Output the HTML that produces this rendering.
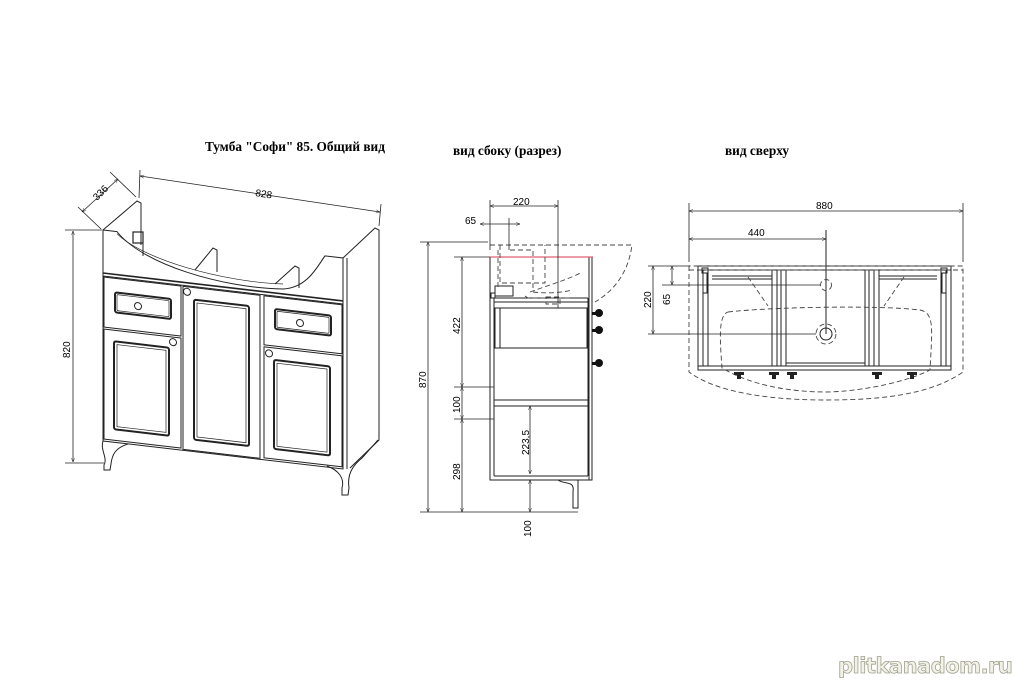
<!DOCTYPE html>
<html><head><meta charset="utf-8"><style>
html,body{margin:0;padding:0;background:#fff;}
svg{display:block;}
text{font-family:"Liberation Serif",serif;fill:#000;}
.s{font-family:"Liberation Sans",sans-serif;font-size:10px;}
.wm{font-family:"DejaVu Sans",sans-serif;font-size:21px;font-weight:bold;fill:#f2f2e6;stroke:#a0a090;stroke-width:0.8px;letter-spacing:-0.5px;}
</style></head><body>
<svg width="1023" height="682" viewBox="0 0 1023 682" xmlns="http://www.w3.org/2000/svg">
<defs>
<marker id="a" viewBox="0 0 10 10" refX="10" refY="5" markerWidth="7" markerHeight="5" orient="auto-start-reverse"><path d="M0,1 L10,5 L0,9" fill="none" stroke="#000" stroke-width="1"/></marker>
</defs>
<rect width="1023" height="682" fill="#fff"/>

<!-- Titles -->
<text x="205" y="151" style="font-size:13.3px;font-weight:bold">Тумба "Софи" 85. Общий вид</text>
<text x="453" y="155" style="font-size:13.3px;font-weight:bold">вид сбоку (разрез)</text>
<text x="725" y="155" style="font-size:13.3px;font-weight:bold">вид сверху</text>

<!-- ===== LEFT VIEW ===== -->
<g fill="none" stroke="#222" stroke-width="1">
  <path d="M103,230 L137,201 L141,203 L141,245"/>
  <path d="M343,258 L375,228 L379,230 L379,440 L350,468"/>
  <line x1="347" y1="258" x2="347" y2="469"/>
  <path d="M195,270 L213,248 L217,250 L217,272"/>
  <path d="M275,284 L295,266 L299,268 L299,288"/>
  <rect x="133" y="232" width="10" height="11" stroke-width="1.2"/>
  <line x1="143" y1="243" x2="143" y2="256"/>
</g>
<g transform="translate(103,230) skewY(6.65)" fill="none" stroke="#222" stroke-width="1">
  <path d="M0,0 L14,0 C40,30 120,44 180,38 C205,34 215,10 222,0 L240,0 L240,211 L0,211 Z"/>
  <path d="M14,2 C40,25 120,38 180,33" stroke-width="0.7"/>
  <line x1="0" y1="43" x2="240" y2="43" stroke-width="1.6"/>
  <line x1="0" y1="46" x2="240" y2="46"/>
  <rect x="1" y="47" width="77" height="50"/>
  <rect x="12" y="61" width="56" height="20" rx="2" stroke-width="2"/>
  <rect x="14" y="63" width="52" height="16" rx="1" stroke-width="0.7"/>
  <circle cx="35" cy="72" r="3.5"/>
  <rect x="1" y="99" width="77" height="110"/>
  <rect x="11" y="110" width="55" height="88" rx="2" stroke-width="2"/>
  <rect x="14" y="113" width="49" height="82" stroke-width="0.7"/>
  <circle cx="70" cy="104" r="3.5"/>
  <rect x="80" y="47" width="77" height="163"/>
  <rect x="91" y="59" width="55" height="140" rx="2" stroke-width="2"/>
  <rect x="94" y="62" width="49" height="134" stroke-width="0.7"/>
  <circle cx="84" cy="52" r="3.5"/>
  <rect x="161" y="47" width="78" height="49"/>
  <rect x="172" y="59" width="56" height="20" rx="2" stroke-width="2"/>
  <rect x="174" y="61" width="52" height="16" rx="1" stroke-width="0.7"/>
  <circle cx="197" cy="70" r="3.5"/>
  <rect x="161" y="98" width="78" height="111"/>
  <rect x="171" y="110" width="56" height="89" rx="2" stroke-width="2"/>
  <rect x="174" y="113" width="50" height="83" stroke-width="0.7"/>
  <circle cx="166" cy="104" r="3.5"/>
</g>
<g fill="none" stroke="#222" stroke-width="1">
  <path d="M103,441 C100,450 108,458 104,465 L104,470 L110,470 L111,464 C112,455 115,448 128,444"/>
  <path d="M327,466 C338,470 345,478 342,488 L342,495 L348,495 L349,488 C347,475 352,466 362,458 L378,440"/>
</g>
<g stroke="#222" stroke-width="0.8" fill="none">
  <line x1="140" y1="176" x2="380" y2="212" marker-start="url(#a)" marker-end="url(#a)"/>
  <line x1="140" y1="170" x2="139" y2="198"/>
  <line x1="381" y1="204" x2="379" y2="226"/>
  <line x1="82" y1="212" x2="118" y2="179" marker-start="url(#a)" marker-end="url(#a)"/>
  <line x1="110" y1="172" x2="136" y2="197"/>
  <line x1="78" y1="207" x2="101" y2="229"/>
  <line x1="73" y1="231" x2="73" y2="462" marker-start="url(#a)" marker-end="url(#a)"/>
  <line x1="65" y1="230" x2="102" y2="230"/>
  <line x1="65" y1="463" x2="104" y2="463"/>
</g>
<text class="s" transform="translate(255,196) rotate(8.5)">828</text>
<text class="s" transform="translate(97,201) rotate(-45)">336</text>
<text class="s" transform="translate(70,358) rotate(-90)">820</text>

<!-- ===== SIDE VIEW ===== -->
<g fill="none" stroke="#222" stroke-width="1">
  <path d="M490,257 L490,480 L592,480 L592,257"/>
  <line x1="494" y1="298" x2="494" y2="476"/>
  <line x1="494" y1="476" x2="588" y2="476"/>
  <line x1="588" y1="298" x2="588" y2="476"/>
  <line x1="589" y1="257" x2="589" y2="480"/>
  <line x1="494" y1="298" x2="588" y2="298"/>
  <line x1="494" y1="302" x2="588" y2="302"/>
  <rect x="495" y="308" width="92" height="40"/>
  <line x1="500" y1="308" x2="500" y2="348"/>
  <line x1="494" y1="400" x2="588" y2="400"/>
  <line x1="494" y1="406" x2="588" y2="406"/>
  <rect x="495" y="286" width="18" height="10"/>
  <rect x="491" y="293" width="4" height="5"/>
  <path d="M558,480 C565,485 575,480 573,492 L573,508 L578,508 L578,480"/>
</g>
<line x1="490" y1="257" x2="593" y2="257" stroke="#e06070" stroke-width="1.3"/>
<g fill="none" stroke="#444" stroke-width="0.9" stroke-dasharray="5,3">
  <path d="M490,245 L632,245 C628,275 612,292 595,302"/>
  <path d="M498,250 L498,290"/>
  <path d="M500,245 L500,283 L545,283 L545,245"/>
  <path d="M510,250 L533,250 L533,290"/>
  <path d="M533,292 C550,294 565,292 572,290"/>
  <path d="M530,292 C555,283 572,278 582,272"/>
  <path d="M525,296 L528,298 L570,298"/>
  <rect x="546" y="297" width="14" height="7"/>
</g>
<g fill="#111">
  <circle cx="599" cy="313" r="4"/><rect x="592" y="312" width="4" height="3"/>
  <circle cx="599" cy="330" r="4"/><rect x="592" y="329" width="4" height="3"/>
  <circle cx="599" cy="363" r="4"/><rect x="592" y="362" width="4" height="3"/>
</g>
<g stroke="#222" stroke-width="0.8" fill="none">
  <line x1="490" y1="206" x2="558" y2="206" marker-start="url(#a)" marker-end="url(#a)"/>
  <line x1="490" y1="200" x2="490" y2="250"/>
  <line x1="558" y1="200" x2="558" y2="308"/>
  <line x1="480" y1="224" x2="520" y2="224" marker-start="url(#a)" marker-end="url(#a)"/>
  <line x1="509" y1="218" x2="509" y2="250"/>
  <line x1="428" y1="242" x2="428" y2="512" marker-start="url(#a)" marker-end="url(#a)"/>
  <line x1="420" y1="242" x2="488" y2="242"/>
  <line x1="420" y1="512" x2="578" y2="512"/>
  <line x1="462" y1="257" x2="462" y2="387" marker-start="url(#a)" marker-end="url(#a)"/>
  <line x1="462" y1="387" x2="462" y2="419" marker-start="url(#a)" marker-end="url(#a)"/>
  <line x1="462" y1="419" x2="462" y2="512" marker-start="url(#a)" marker-end="url(#a)"/>
  <line x1="454" y1="257" x2="490" y2="257"/>
  <line x1="454" y1="387" x2="494" y2="387"/>
  <line x1="454" y1="419" x2="494" y2="419"/>
  <line x1="530" y1="406" x2="530" y2="474" marker-start="url(#a)" marker-end="url(#a)"/>
  <line x1="530" y1="480" x2="530" y2="512" marker-start="url(#a)" marker-end="url(#a)"/>
</g>
<text class="s" x="513" y="205">220</text>
<text class="s" x="465" y="224">65</text>
<text class="s" transform="translate(426,388) rotate(-90)">870</text>
<text class="s" transform="translate(460,334) rotate(-90)">422</text>
<text class="s" transform="translate(460,413) rotate(-90)">100</text>
<text class="s" transform="translate(460,480) rotate(-90)">298</text>
<text class="s" transform="translate(529,455) rotate(-90)">223,5</text>
<text class="s" transform="translate(531,537) rotate(-90)">100</text>

<!-- ===== TOP VIEW ===== -->
<g fill="none" stroke="#222" stroke-width="1">
  <rect x="698" y="266" width="253" height="104"/>
  <line x1="698" y1="270" x2="951" y2="270"/>
  <line x1="698" y1="366" x2="951" y2="366"/>
  <line x1="703" y1="270" x2="703" y2="366"/><line x1="708" y1="270" x2="708" y2="366"/>
  <line x1="941" y1="270" x2="941" y2="366"/><line x1="946" y1="270" x2="946" y2="366"/>
  <line x1="772" y1="270" x2="772" y2="366"/><line x1="777" y1="270" x2="777" y2="366"/>
  <line x1="781" y1="270" x2="781" y2="366"/><line x1="786" y1="270" x2="786" y2="366"/>
  <line x1="865" y1="270" x2="865" y2="366"/><line x1="869" y1="270" x2="869" y2="366"/>
  <line x1="874" y1="270" x2="874" y2="366"/><line x1="879" y1="270" x2="879" y2="366"/>
  <rect x="786" y="270" width="79" height="93"/>
  <line x1="712" y1="276" x2="772" y2="276"/><line x1="712" y1="279" x2="772" y2="279"/>
  <line x1="879" y1="276" x2="937" y2="276"/><line x1="879" y1="279" x2="937" y2="279"/>
  <rect x="702" y="268" width="6" height="5"/><rect x="941" y="268" width="6" height="5"/>
  <rect x="703" y="273" width="4" height="20"/><rect x="942" y="273" width="4" height="20"/>
  <circle cx="826" cy="334" r="6"/>
  <line x1="826" y1="230" x2="826" y2="334"/>
</g>
<g fill="none" stroke="#444" stroke-width="0.9" stroke-dasharray="5,3">
  <path d="M689,266 L689,372 C720,395 780,400 826,400 C880,400 930,395 963,372 L963,266 Z"/>
  <line x1="689" y1="270" x2="963" y2="270"/>
  <path d="M728,312 C770,307 880,305 920,310 C935,313 932,330 930,370 C900,385 850,392 826,392 C790,392 750,385 722,368 C720,340 718,315 728,312 Z"/>
  <line x1="748" y1="277" x2="768" y2="306"/>
  <line x1="904" y1="277" x2="884" y2="306"/>
  <circle cx="826" cy="285" r="5.5"/>
  <circle cx="826" cy="334" r="10"/>
</g>
<g fill="#222">
  <rect x="734" y="372" width="10" height="3"/><rect x="737" y="375" width="4" height="4"/>
  <rect x="769" y="372" width="10" height="3"/><rect x="772" y="375" width="4" height="4"/>
  <rect x="787" y="372" width="10" height="3"/><rect x="790" y="375" width="4" height="4"/>
  <rect x="872" y="372" width="10" height="3"/><rect x="875" y="375" width="4" height="4"/>
  <rect x="907" y="372" width="10" height="3"/><rect x="910" y="375" width="4" height="4"/>
</g>
<g stroke="#222" stroke-width="0.8" fill="none">
  <line x1="689" y1="211" x2="963" y2="211" marker-start="url(#a)" marker-end="url(#a)"/>
  <line x1="689" y1="203" x2="689" y2="262"/>
  <line x1="963" y1="203" x2="963" y2="262"/>
  <line x1="689" y1="239" x2="826" y2="239" marker-start="url(#a)" marker-end="url(#a)"/>
  <line x1="653" y1="266" x2="653" y2="334" marker-start="url(#a)" marker-end="url(#a)"/>
  <line x1="672" y1="266" x2="672" y2="285" marker-start="url(#a)" marker-end="url(#a)"/>
  <line x1="648" y1="266" x2="690" y2="266"/>
  <line x1="662" y1="285" x2="820" y2="285"/>
  <line x1="648" y1="334" x2="816" y2="334"/>
</g>
<text class="s" x="816" y="209">880</text>
<text class="s" x="748" y="236">440</text>
<text class="s" transform="translate(651,308) rotate(-90)">220</text>
<text class="s" transform="translate(670,305) rotate(-90)">65</text>

<text class="wm" x="838" y="673">plitkanadom.ru</text>
</svg>
</body></html>
